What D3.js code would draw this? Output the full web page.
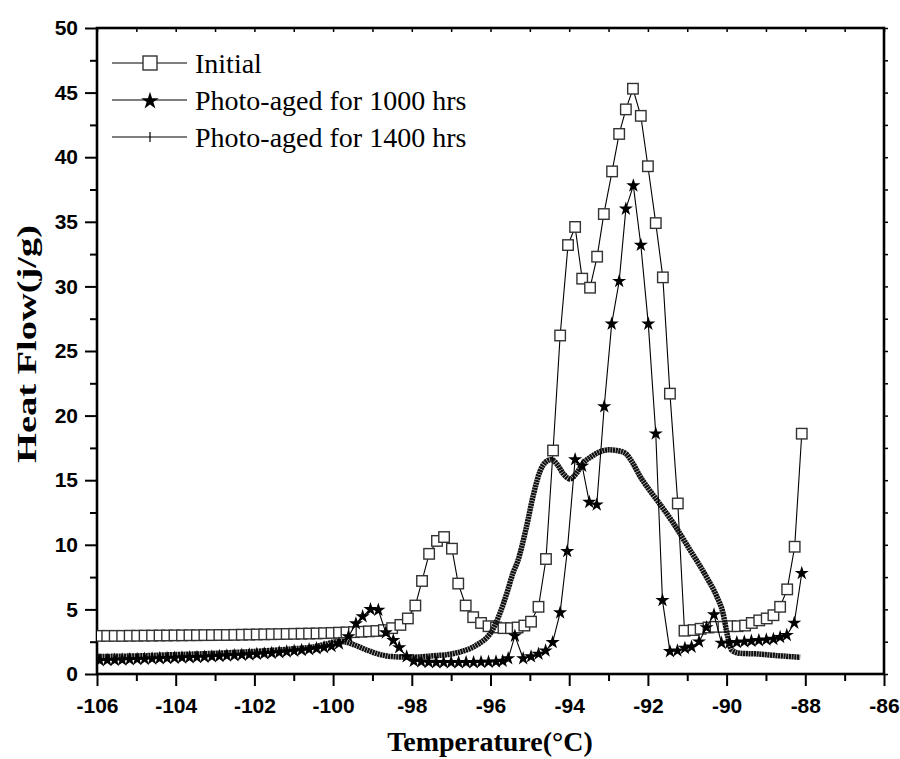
<!DOCTYPE html>
<html><head><meta charset="utf-8">
<script src="https://cdn.jsdelivr.net/npm/d3@7"></script>
<style>body{margin:0;background:#fff}svg{display:block}</style>
</head><body><svg id="c" width="900" height="759"></svg>
<script>
const seriesNames = ["Initial", "Photo-aged for 1000 hrs", "Photo-aged for 1400 hrs"];
const xTicks = [-106,-104,-102,-100,-98,-96,-94,-92,-90,-88,-86];
const yTicks = [0,5,10,15,20,25,30,35,40,45,50];

const initialX = [-105.93,-105.74,-105.55,-105.36,-105.17,-104.98,-104.79,-104.60,-104.41,-104.22,-104.03,-103.84,-103.65,-103.46,-103.27,-103.08,-102.89,-102.70,-102.51,-102.32,-102.13,-101.94,-101.75,-101.56,-101.37,-101.18,-100.99,-100.80,-100.61,-100.42,-100.23,-100.04,-99.85,-99.66,-99.47,-99.28,-99.09,-98.90,-98.71,-98.50,-98.29,-98.10,-97.91,-97.74,-97.56,-97.36,-97.18,-96.98,-96.82,-96.63,-96.44,-96.24,-96.05,-95.86,-95.67,-95.48,-95.31,-95.14,-94.97,-94.78,-94.59,-94.41,-94.23,-94.03,-93.85,-93.67,-93.47,-93.29,-93.12,-92.91,-92.73,-92.56,-92.38,-92.18,-92.00,-91.80,-91.62,-91.44,-91.24,-91.07,-90.84,-90.66,-90.46,-90.28,-90.08,-89.91,-89.72,-89.53,-89.36,-89.17,-88.98,-88.81,-88.64,-88.46,-88.27,-88.09];
const initialY = [2.95,2.95,2.95,2.95,2.96,2.96,2.97,2.97,2.98,2.98,2.99,2.99,3.0,3.0,3.01,3.01,3.02,3.02,3.03,3.04,3.05,3.06,3.07,3.08,3.09,3.1,3.11,3.12,3.13,3.14,3.16,3.18,3.2,3.22,3.24,3.27,3.3,3.33,3.4,3.55,3.8,4.3,5.3,7.2,9.3,10.3,10.6,9.7,7.0,5.3,4.4,3.95,3.7,3.6,3.55,3.55,3.6,3.75,4.05,5.2,8.9,17.3,26.2,33.2,34.6,30.6,29.9,32.3,35.6,38.9,41.8,43.7,45.3,43.2,39.3,34.9,30.7,21.7,13.2,3.35,3.4,3.5,3.6,3.65,3.65,3.7,3.7,3.75,3.95,4.15,4.3,4.55,5.2,6.55,9.85,18.6];

const aged1000X = [-105.93,-105.74,-105.55,-105.36,-105.17,-104.98,-104.79,-104.60,-104.41,-104.22,-104.03,-103.84,-103.65,-103.46,-103.27,-103.08,-102.89,-102.70,-102.51,-102.32,-102.13,-101.94,-101.75,-101.56,-101.37,-101.18,-100.99,-100.80,-100.61,-100.42,-100.23,-100.04,-99.85,-99.61,-99.42,-99.25,-99.05,-98.85,-98.66,-98.47,-98.32,-98.13,-97.95,-97.76,-97.57,-97.38,-97.19,-97.00,-96.81,-96.62,-96.43,-96.24,-96.05,-95.86,-95.69,-95.55,-95.38,-95.17,-94.97,-94.78,-94.60,-94.42,-94.23,-94.05,-93.85,-93.67,-93.49,-93.30,-93.11,-92.92,-92.73,-92.56,-92.37,-92.18,-91.99,-91.80,-91.63,-91.44,-91.25,-91.06,-90.89,-90.70,-90.51,-90.32,-90.13,-89.93,-89.74,-89.55,-89.37,-89.18,-88.99,-88.81,-88.64,-88.47,-88.28,-88.09];
const aged1000Y = [1.05,1.07,1.08,1.1,1.12,1.14,1.16,1.18,1.2,1.22,1.24,1.26,1.28,1.3,1.32,1.35,1.38,1.41,1.44,1.47,1.5,1.54,1.58,1.62,1.67,1.72,1.78,1.84,1.9,1.97,2.05,2.15,2.35,2.9,3.9,4.45,5.0,4.95,3.2,2.6,2.05,1.35,1.0,0.95,0.92,0.9,0.9,0.9,0.9,0.9,0.9,0.92,0.93,0.95,1.0,1.2,2.95,1.2,1.35,1.55,1.8,2.45,4.75,9.5,16.6,16.1,13.3,13.1,20.7,27.1,30.4,36.0,37.8,33.2,27.1,18.6,5.7,1.75,1.8,2.0,2.1,2.5,3.6,4.6,2.4,2.4,2.45,2.5,2.55,2.6,2.65,2.7,2.85,3.0,3.95,7.8];

const aged1400X = [-106,-105,-104,-103,-102,-101,-100.5,-100.2,-99.9,-99.75,-99.5,-99.14,-98.8,-98.5,-98,-97.5,-97,-96.78,-96.5,-96.27,-96.1,-95.97,-95.76,-95.58,-95.43,-95.3,-95.1,-94.9,-94.74,-94.6,-94.45,-94.3,-94.15,-93.98,-93.8,-93.65,-93.45,-93.22,-93.0,-92.8,-92.58,-92.4,-92.2,-92.0,-91.78,-91.36,-90.93,-90.51,-90.25,-90.09,-89.98,-89.87,-89.66,-89.2,-88.82,-88.4,-88.13];
const aged1400Y = [1.35,1.4,1.5,1.6,1.75,1.95,2.1,2.3,2.5,2.5,2.3,1.85,1.5,1.35,1.3,1.4,1.55,1.7,2.0,2.4,2.8,3.3,4.7,6.3,7.8,8.8,11.2,14.0,15.7,16.4,16.6,16.2,15.5,15.1,15.6,16.3,16.8,17.2,17.35,17.3,17.1,16.4,15.3,14.4,13.5,11.7,9.6,7.5,6.0,4.7,3.0,1.85,1.6,1.55,1.45,1.35,1.3];

const svg = d3.select("#c");
const L=97, R=884, T=28, B=674;
const x = d3.scaleLinear().domain([-106,-86]).range([L,R]);
const y = d3.scaleLinear().domain([0,50]).range([B,T]);
const tickFont = "bold 21px 'Liberation Sans', Arial, sans-serif";

// minor ticks
const xMinor = d3.range(-105,-86,2);
const yMinor = d3.range(2.5,50,5);
svg.append("g").attr("transform",`translate(0,${B})`)
  .call(d3.axisBottom(x).tickValues(xMinor).tickSize(7).tickFormat(""))
  .call(g=>{g.select(".domain").remove();g.selectAll("line").attr("stroke","#000").attr("stroke-width",2);});
svg.append("g").attr("transform",`translate(${L},0)`)
  .call(d3.axisLeft(y).tickValues(yMinor).tickSize(7).tickFormat(""))
  .call(g=>{g.select(".domain").remove();g.selectAll("line").attr("stroke","#000").attr("stroke-width",2);});
// major
svg.append("g").attr("transform",`translate(0,${B})`)
  .call(d3.axisBottom(x).tickValues(xTicks).tickSize(12).tickPadding(12).tickFormat(d=>String(d)))
  .call(g=>{g.select(".domain").remove();g.selectAll("line").attr("stroke","#000").attr("stroke-width",2);
    g.selectAll("text").attr("fill","#000").style("font",tickFont);});
svg.append("g").attr("transform",`translate(${L},0)`)
  .call(d3.axisLeft(y).tickValues(yTicks).tickSize(12).tickPadding(7).tickFormat(d=>String(d)))
  .call(g=>{g.select(".domain").remove();g.selectAll("line").attr("stroke","#000").attr("stroke-width",2);
    g.selectAll("text").attr("fill","#000").style("font",tickFont);});
// top & right small ticks
svg.append("g").attr("transform",`translate(0,${T})`)
  .call(d3.axisTop(x).tickValues(d3.range(-106,-85,1)).tickSize(-4).tickFormat(""))
  .call(g=>{g.select(".domain").remove();g.selectAll("line").attr("stroke","#000").attr("stroke-width",1.5);});
svg.append("g").attr("transform",`translate(${R},0)`)
  .call(d3.axisRight(y).tickValues(d3.range(0,50.1,2.5)).tickSize(4).tickFormat(""))
  .call(g=>{g.select(".domain").remove();g.selectAll("line").attr("stroke","#000").attr("stroke-width",1.5);});

// frame
svg.append("rect").attr("x",L).attr("y",T).attr("width",R-L).attr("height",B-T)
  .attr("fill","none").attr("stroke","#000").attr("stroke-width",2.6);

svg.append("defs").append("clipPath").attr("id","pc").append("rect")
  .attr("x",L).attr("y",T).attr("width",R-L).attr("height",B-T);
const plot = svg.append("g").attr("clip-path","url(#pc)");

const initial = initialX.map((v,i)=>[v,initialY[i]]);
const aged1000 = aged1000X.map((v,i)=>[v,aged1000Y[i]]);
const aged1400 = aged1400X.map((v,i)=>[v,aged1400Y[i]]);

const lineStraight = d3.line().x(d=>x(d[0])).y(d=>y(d[1]));
const lineSmooth = d3.line().x(d=>x(d[0])).y(d=>y(d[1])).curve(d3.curveMonotoneX);

// Initial line + squares
plot.append("path").attr("d",lineStraight(initial)).attr("fill","none").attr("stroke","#000").attr("stroke-width",1.1);
const sq = 10.5;
plot.append("g").selectAll("rect").data(initial).join("rect")
  .attr("x",d=>x(d[0])-sq/2).attr("y",d=>y(d[1])-sq/2).attr("width",sq).attr("height",sq)
  .attr("fill","#fff").attr("stroke","#333").attr("stroke-width",1.4);

// 1400 hrs thick ribbed line
plot.append("path").attr("d",lineSmooth(aged1400)).attr("fill","none")
  .attr("stroke","#111").attr("stroke-width",5.5).attr("stroke-dasharray","2.2,0.5");

// 1000 hrs line + stars
plot.append("path").attr("d",lineStraight(aged1000)).attr("fill","none").attr("stroke","#000").attr("stroke-width",1.1);
const star = d3.symbol().type(d3.symbolStar).size(62);
plot.append("g").selectAll("path").data(aged1000).join("path")
  .attr("transform",d=>`translate(${x(d[0])},${y(d[1])})`).attr("d",star).attr("fill","#000");

// legend
const lg = svg.append("g");
const rows = [63,100,137];
rows.forEach((ry,i)=>{
  lg.append("line").attr("x1",112).attr("x2",187).attr("y1",ry).attr("y2",ry).attr("stroke","#000").attr("stroke-width",1.1);
  lg.append("text").attr("x",195).attr("y",ry+10).text(seriesNames[i])
    .style("font","28px 'Liberation Serif', 'Times New Roman', serif").attr("fill","#000");
});
lg.append("rect").attr("x",150-7).attr("y",rows[0]-7).attr("width",14).attr("height",14)
  .attr("fill","#fff").attr("stroke","#333").attr("stroke-width",1.4);
lg.append("path").attr("transform",`translate(150,${rows[1]+1})`).attr("d",d3.symbol().type(d3.symbolStar).size(95)()).attr("fill","#000");
lg.append("line").attr("x1",150).attr("x2",150).attr("y1",rows[2]-5).attr("y2",rows[2]+5).attr("stroke","#000").attr("stroke-width",1.2);

// axis titles
svg.append("text").attr("x",490).attr("y",751).attr("text-anchor","middle")
  .style("font","bold 28px 'Liberation Serif', 'Times New Roman', serif").attr("fill","#000")
  .text("Temperature(\u00B0C)");
svg.append("text").attr("transform","translate(36,344) rotate(-90)").attr("text-anchor","middle")
  .attr("textLength",238).attr("lengthAdjust","spacingAndGlyphs")
  .style("font","bold 28px 'Liberation Serif', 'Times New Roman', serif").attr("fill","#000")
  .text("Heat Flow(j/g)");
</script></body></html>
